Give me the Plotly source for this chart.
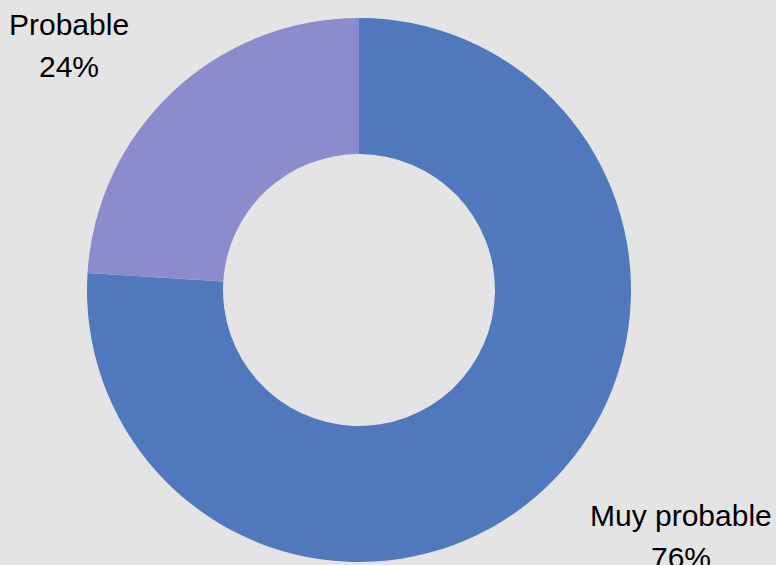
import plotly.graph_objects as go

labels = ["Muy probable", "Probable"]
values = [76, 24]
colors = ["#5078bd", "#8b8ccb"]

W, H = 776, 565

fig = go.Figure(go.Pie(
    labels=labels, values=values, hole=0.5, sort=False, direction="clockwise",
    rotation=0, marker=dict(colors=colors, line=dict(width=0)),
    textinfo="none", hoverinfo="label+percent", showlegend=False,
    domain=dict(x=[87/W, 631/W], y=[1-562/H, 1-18/H]),
))

# label positions (paper px)
pos = {"Probable": (68.5, 25, 67), "Muy probable": (680.5, 515, 557)}
font = dict(family="Liberation Sans, Arial, sans-serif", size=30, color="#000000")
anns = []
for lab, val in zip(labels, values):
    px, y1, y2 = pos[lab]
    anns.append(dict(x=px/W, y=1-y1/H, xref="paper", yref="paper", text=lab,
                     showarrow=False, xanchor="center", yanchor="middle", font=font))
    anns.append(dict(x=px/W, y=1-y2/H, xref="paper", yref="paper", text=f"{val}%",
                     showarrow=False, xanchor="center", yanchor="middle", font=font))

fig.update_layout(
    width=W, height=H, margin=dict(l=0, r=0, t=0, b=0),
    paper_bgcolor="#e4e4e4", plot_bgcolor="#e4e4e4",
    annotations=anns,
)
fig.write_html("out.html")
